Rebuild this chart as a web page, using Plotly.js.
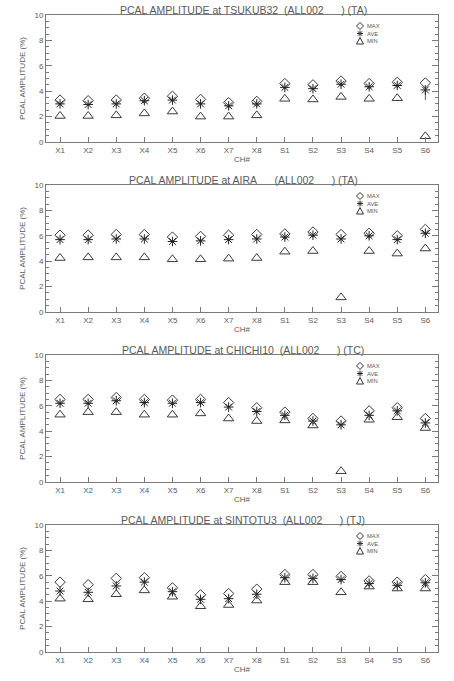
<!DOCTYPE html>
<html><head><meta charset="utf-8">
<script src="https://cdn.plot.ly/plotly-3.0.1.min.js"></script>
<style>html,body{margin:0;padding:0;background:#fff;}#chart{width:454px;height:681px;}</style>
</head><body><div id="chart"></div>
<script>
const channels = ['X1','X2','X3','X4','X5','X6','X7','X8','S1','S2','S3','S4','S5','S6'];
const stations = ['TSUKUB32','AIRA','CHICHI10','SINTOTU3'];
const codes = ['TA','TA','TC','TJ'];
const legendNames = ['MAX','AVE','MIN'];

const tsukubMax = [3.3,3.25,3.3,3.45,3.6,3.35,3.1,3.2,4.6,4.5,4.8,4.6,4.7,4.65];
const tsukubAve = [3.0,2.95,3.0,3.25,3.3,3.0,2.85,3.0,4.3,4.2,4.55,4.35,4.45,4.1];
const tsukubMin = [2.05,2.05,2.1,2.25,2.4,2.0,2.0,2.1,3.4,3.35,3.55,3.4,3.45,0.45];
const tsukubAveErrMinus = [0,0,0,0,0,0,0,0,0,0,0,0,0,0.8];

const airaMax = [6.05,6.05,6.1,6.1,5.9,5.95,6.05,6.1,6.15,6.3,6.1,6.2,6.0,6.5];
const airaAve = [5.7,5.7,5.75,5.75,5.55,5.6,5.7,5.75,5.9,6.05,5.75,6.0,5.7,6.2];
const airaMin = [4.25,4.3,4.3,4.3,4.15,4.15,4.2,4.25,4.75,4.8,1.15,4.8,4.6,5.0];

const chichiMax = [6.5,6.5,6.65,6.5,6.45,6.5,6.25,5.85,5.5,5.0,4.8,5.6,5.85,5.0];
const chichiAve = [6.2,6.2,6.4,6.25,6.2,6.25,5.9,5.55,5.25,4.8,4.5,5.25,5.6,4.65];
const chichiMin = [5.3,5.5,5.5,5.3,5.3,5.4,5.0,4.8,4.85,4.45,0.85,4.9,5.1,4.25];

const sintoMax = [5.5,5.3,5.8,5.85,5.05,4.5,4.6,4.95,6.1,6.1,5.95,5.6,5.5,5.7];
const sintoAve = [4.8,4.7,5.2,5.5,4.75,4.15,4.2,4.55,5.85,5.8,5.7,5.4,5.25,5.45];
const sintoMin = [4.2,4.15,4.55,4.85,4.35,3.6,3.7,4.05,5.5,5.5,4.7,5.15,5.0,5.0];

const yTicks = [0,2,4,6,8,10];

const panels = [
  {max: tsukubMax, ave: tsukubAve, min: tsukubMin, err: tsukubAveErrMinus},
  {max: airaMax, ave: airaAve, min: airaMin},
  {max: chichiMax, ave: chichiAve, min: chichiMin},
  {max: sintoMax, ave: sintoAve, min: sintoMin}
];

const W = 454, H = 681;
const textCol = '#5a5a5a';
const lineCol = '#7a7a7a';
const font = 'Liberation Sans, DejaVu Sans, sans-serif';
const NB = '\u00A0';

const traces = [];
const layout = {
  width: W, height: H,
  margin: {l:0, r:0, t:0, b:0},
  paper_bgcolor: '#fff', plot_bgcolor: '#fff',
  showlegend: false,
  font: {family: font, color: textCol, size: 8},
  annotations: [],
  shapes: []
};

// legend key glyph outlines (pixel units around an anchor; +y is up)
const legendGlyphs = [
  'M0,3.5 L3.5,0 L0,-3.5 L-3.5,0 Z',
  'M-3,0 L3,0 M0,-3 L0,3 M-2.2,-2.2 L2.2,2.2 M-2.2,2.2 L2.2,-2.2',
  'M-3.5,-3 L3.5,-3 L0,3.5 Z'
];

panels.forEach((p, i) => {
  const top = 15 + 170*i, bot = 142 + 170*i;
  const sfx = i === 0 ? '' : String(i+1);
  const xa = 'x' + sfx, ya = 'y' + sfx;
  const dom = [(H - bot)/H, (H - top)/H];
  layout['xaxis' + sfx] = {
    domain: [46/W, 438/W], anchor: ya,
    type: 'category', range: [-0.5, 13.45],
    showgrid: false, zeroline: false,
    showline: true, linecolor: lineCol, linewidth: 1, mirror: true,
    ticks: 'inside', ticklen: 5, tickcolor: lineCol,
    tickfont: {family: font, size: 8, color: textCol},
    title: {text: 'CH#', font: {family: font, size: 8, color: textCol}, standoff: 1}
  };
  layout['yaxis' + sfx] = {
    domain: dom, anchor: xa,
    range: [0, 10], tickvals: yTicks,
    showgrid: false, zeroline: false,
    showline: true, linecolor: lineCol, linewidth: 1, mirror: 'ticks',
    ticks: 'inside', ticklen: 6, tickcolor: lineCol,
    minor: {ticks: 'inside', ticklen: 3, dtick: 0.5, tickcolor: lineCol, showgrid: false},
    tickfont: {family: font, size: 8, color: textCol},
    title: {text: 'PCAL AMPLITUDE (%)', font: {family: font, size: 8, color: textCol}, standoff: 7}
  };
  const pad = (s, n) => s + NB.repeat(Math.max(0, n - s.length));
  const title = 'PCAL AMPLITUDE at ' + pad(stations[i], 8) + NB+NB + '(ALL002' + NB.repeat(6) + ') (' + codes[i] + ')';
  layout.annotations.push({
    text: title, xref: 'paper', yref: 'paper',
    x: 243/W, y: (H - (top - 5))/H, xanchor: 'center', yanchor: 'middle',
    showarrow: false, font: {family: font, size: 10.5, color: textCol}
  });
  // legend: stacked labels + glyph shapes
  const legMid = 33.5 + 170*i;
  const fs = 5.8;
  const lh = fs * 1.3;
  layout.annotations.push({
    text: legendNames.join('<br>'), xref: 'paper', yref: 'paper',
    x: 365/W, y: (H - legMid)/H, xanchor: 'left', yanchor: 'middle', align: 'left',
    showarrow: false, font: {family: font, size: fs, color: textCol}
  });
  legendGlyphs.forEach((g, k) => {
    layout.shapes.push({
      type: 'path', xref: 'paper', yref: 'paper',
      xsizemode: 'pixel', ysizemode: 'pixel',
      xanchor: 360/W, yanchor: (H - (legMid + (k - 1) * lh))/H,
      path: g, line: {color: '#333', width: 1}
    });
  });
  traces.push({
    x: channels, y: p.max, xaxis: xa, yaxis: ya, type: 'scatter', mode: 'markers', name: legendNames[0],
    marker: {symbol: 'diamond-open', size: 8, color: '#3a3a3a', line: {width: 1}}
  });
  const aveTrace = {
    x: channels, y: p.ave, xaxis: xa, yaxis: ya, type: 'scatter', mode: 'markers', name: legendNames[1],
    marker: {symbol: 'asterisk-open', size: 8, color: '#222', line: {width: 1, color: '#222'}}
  };
  if (p.err) {
    aveTrace.error_y = {type: 'data', symmetric: false, array: p.err.map(() => 0), arrayminus: p.err, width: 0, thickness: 1, color: '#555'};
  }
  traces.push(aveTrace);
  traces.push({
    x: channels, y: p.min, xaxis: xa, yaxis: ya, type: 'scatter', mode: 'markers', name: legendNames[2],
    marker: {symbol: 'triangle-up-open', size: 9, color: '#3a3a3a', line: {width: 1}}
  });
});

Plotly.newPlot('chart', traces, layout, {staticPlot: true, displayModeBar: false});
</script>
</body></html>
